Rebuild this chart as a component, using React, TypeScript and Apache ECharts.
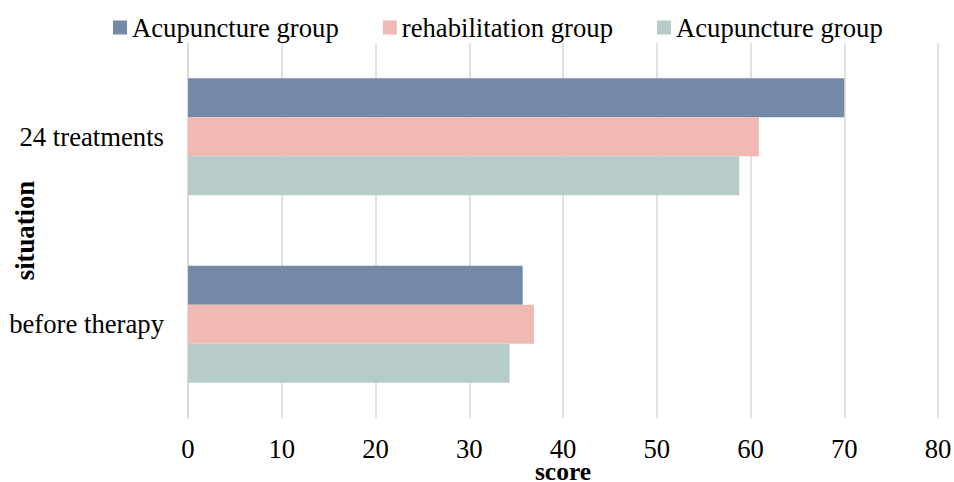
import React, { useEffect, useRef } from "react";
import * as echarts from "echarts";

const categories = ["before therapy", "24 treatments"];
const seriesLabels = ["Acupuncture group", "rehabilitation group", "Acupuncture group"];
const acupunctureA = [35.7, 70];
const rehabilitation = [36.9, 60.9];
const acupunctureB = [34.3, 58.8];
const colors = ["#7489a8", "#f0b9b3", "#b7cbc9"];
const xTicks = { min: 0, max: 80, interval: 10 };

export default function App() {
  const ref = useRef<HTMLDivElement>(null);
  useEffect(() => {
    document.body.style.margin = "0";
    if (!ref.current) return;
    const chart = echarts.init(ref.current, null, { renderer: "svg" });
    const font = "Liberation Serif";
    const fs = 26.7;
    const keys = ["s0", "s1", "s2"];
    const values = [acupunctureA, rehabilitation, acupunctureB];
    const series = [0, 1, 2].map((i) => ({
      name: keys[i],
      type: "bar",
      data: values[i],
      itemStyle: { color: colors[i] },
      barGap: "0%",
      barCategoryGap: "37.6%",
    }));
    chart.setOption({
      animation: false,
      textStyle: { fontFamily: font },
      legend: {
        data: keys,
        left: 108,
        top: 9,
        itemWidth: 14,
        itemHeight: 14,
        itemGap: 44,
        icon: "rect",
        formatter: (n: string) => seriesLabels[keys.indexOf(n)],
        textStyle: { fontFamily: font, fontSize: fs, color: "#000" },
      },
      grid: {
        left: 188,
        right: 16,
        top: 43,
        bottom: 64,
        containLabel: false,
        outerBoundsMode: "none",
      },
      xAxis: {
        type: "value",
        min: xTicks.min,
        max: xTicks.max,
        interval: xTicks.interval,
        name: "score",
        nameLocation: "middle",
        nameGap: 45,
        nameMoveOverlap: false,
        nameTextStyle: {
          fontFamily: font,
          fontSize: 25.5,
          lineHeight: 16,
          fontWeight: "bold",
          color: "#000",
        },
        axisLine: { show: false },
        axisTick: { show: false },
        axisLabel: { fontFamily: font, fontSize: fs, lineHeight: 22, color: "#000", margin: 20 },
        splitLine: { show: true, lineStyle: { color: "#d9d9d9", width: 1.5 } },
      },
      yAxis: {
        type: "category",
        data: categories,
        name: "situation",
        nameLocation: "middle",
        nameGap: 150,
        nameMoveOverlap: false,
        nameTextStyle: { fontFamily: font, fontSize: fs, fontWeight: "bold", color: "#000" },
        axisLine: { show: true, lineStyle: { color: "#d9d9d9", width: 1.5 } },
        axisTick: { show: false },
        axisLabel: { fontFamily: font, fontSize: fs, color: "#000", margin: 24 },
        splitLine: { show: false },
      },
      series,
    });
    return () => chart.dispose();
  }, []);
  return <div ref={ref} style={{ width: 954, height: 482, background: "#fff" }} />;
}
